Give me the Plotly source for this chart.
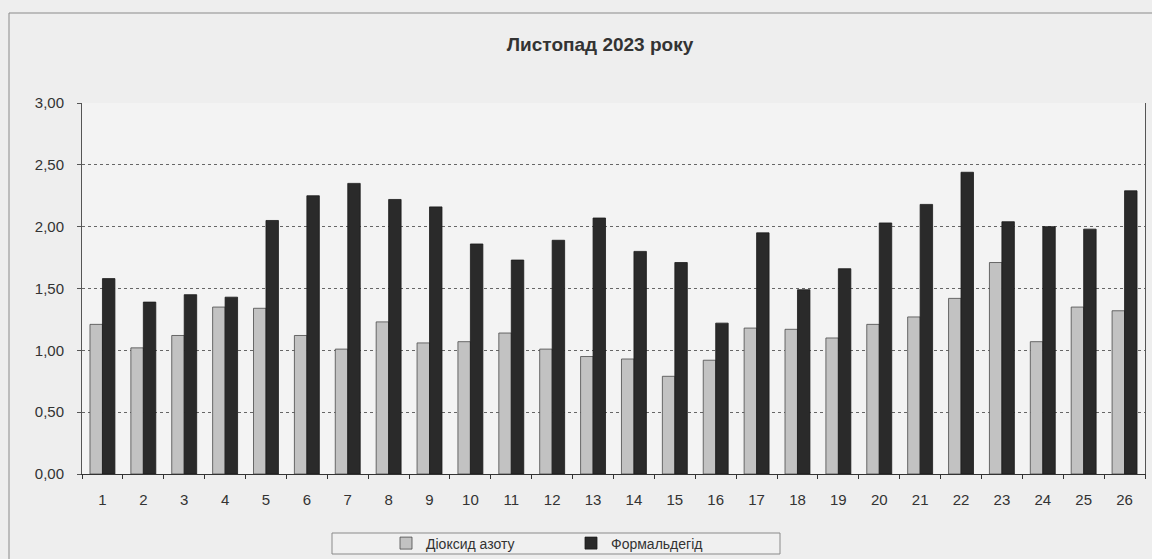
import plotly.graph_objects as go

days = [str(i) for i in range(1, 27)]
no2 = [1.21, 1.02, 1.12, 1.35, 1.34, 1.12, 1.01, 1.23, 1.06, 1.07, 1.14, 1.01, 0.95,
       0.93, 0.79, 0.92, 1.18, 1.17, 1.10, 1.21, 1.27, 1.42, 1.71, 1.07, 1.35, 1.32]
formald = [1.58, 1.39, 1.45, 1.43, 2.05, 2.25, 2.35, 2.22, 2.16, 1.86, 1.73, 1.89, 2.07,
           1.80, 1.71, 1.22, 1.95, 1.49, 1.66, 2.03, 2.18, 2.44, 2.04, 2.00, 1.98, 2.29]
y_ticks = [0, 0.5, 1.0, 1.5, 2.0, 2.5, 3.0]

FONT = "Liberation Sans, Arial, sans-serif"

fig = go.Figure()
fig.add_trace(go.Bar(x=days, y=no2, name="Діоксид азоту",
                     marker=dict(color="#c2c2c2", line=dict(color="#4a4a4a", width=0.8))))
fig.add_trace(go.Bar(x=days, y=formald, name="Формальдегід",
                     marker=dict(color="#2a2a2a", line=dict(color="#1a1a1a", width=0.8))))

W, H = 1152, 559
L, R, T, B = 82, 7, 103, H - 474
pw, ph = W - L - R, H - T - B


def px_x(x):
    return (x - L) / pw


def px_y(y):
    return (T + ph - y) / ph


fig.update_layout(
    width=W, height=H,
    margin=dict(l=L, r=R, t=T, b=B, pad=0, autoexpand=False),
    paper_bgcolor="#eeeeee",
    plot_bgcolor="#f3f3f3",
    separators=", ",
    barmode="group",
    bargap=0.39,
    bargroupgap=0,
    font=dict(family=FONT, size=15, color="#333333"),
    title=dict(text="<b>Листопад 2023 року</b>", x=600 / W, xanchor="center",
               y=1 - 44 / H, yanchor="middle", xref="container", yref="container",
               font=dict(family=FONT, size=19, color="#333333")),
    showlegend=True,
    legend=dict(orientation="h", x=px_x(386), xanchor="left",
                y=px_y(543.5), yanchor="middle",
                bgcolor="rgba(0,0,0,0)", borderwidth=0,
                entrywidth=140, entrywidthmode="pixels",
                font=dict(family=FONT, size=14, color="#333333")),
    xaxis=dict(type="category", showline=True, linecolor="#333333", linewidth=1.2,
               ticks="outside", ticklen=4, tickcolor="#333333",
               tickson="boundaries", showgrid=False, ticklabelstandoff=12,
               tickfont=dict(family=FONT, size=15, color="#333333")),
    yaxis=dict(range=[0, 3], tickvals=y_ticks, tickformat=".2f",
               showline=True, linecolor="#555555", linewidth=1, mirror=True,
               ticks="outside", ticklen=4, tickcolor="#555555",
               showgrid=True, gridcolor="#666666", gridwidth=1, griddash="dot",
               zeroline=False, ticklabelstandoff=10,
               tickfont=dict(family=FONT, size=15, color="#333333")),
)

# outer chart frame
fig.add_shape(type="rect", xref="paper", yref="paper",
              x0=px_x(9), x1=px_x(W + 5), y0=px_y(575), y1=px_y(13),
              line=dict(color="#8a8a8a", width=1), layer="below")
# legend box
fig.add_shape(type="rect", xref="paper", yref="paper",
              x0=px_x(332), x1=px_x(780), y0=px_y(554), y1=px_y(533),
              line=dict(color="#8a8a8a", width=1), fillcolor="#f0f0f0", layer="below")

post = (
    "document.documentElement.style.margin='0';"
    "document.documentElement.style.overflow='hidden';"
    "document.body.style.margin='0';"
    "document.body.style.padding='0';"
    "document.body.style.overflow='hidden';"
    "document.body.style.background='#eeeeee';"
)

fig.write_html(
    "out.html",
    config={"displayModeBar": False},
    post_script=post,
)
